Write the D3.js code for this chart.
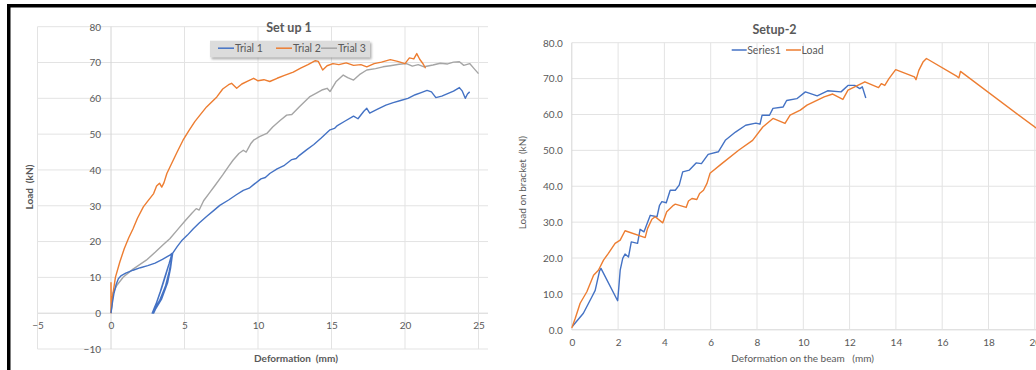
<!DOCTYPE html>
<html>
<head>
<meta charset="utf-8">
<script src="https://d3js.org/d3.v7.min.js"></script>
<style>
	body { margin: 0; background: #fff; }
	text { font-family: Lato, "Open Sans", sans-serif; fill: #595959; }
	.tick { font-size: 10px; }
	.title { font-size: 12.5px; font-weight: bold; }
	.axisTitle { font-size: 10px; }
	.bold { font-weight: bold; }
	.legendText { font-size: 10.5px; }
</style>
</head>
<body>
<script>
//set up 1 data: [deformation (mm), load (kN)]
var trial1 = [
	[0,0],[0.1,3],[0.2,5.5],[0.35,8],[0.5,9.6],[0.7,10.5],[1.0,11.2],[1.5,12.0],[2.0,12.7],[2.5,13.3],
	[3.0,14.0],[3.5,15.0],[4.0,16.2],[4.15,16.7],
	//unloading / reloading loops
	[4.0,14.5],[3.75,11],[3.45,7],[3.15,3.5],[2.95,1.5],[2.8,0],[2.95,1.2],[3.3,3.5],[3.7,7.5],[3.95,11.5],[4.1,14.5],[4.15,16.6],
	[3.95,13.8],[3.65,10],[3.35,6],[3.1,3],[2.9,0],[3.05,1.3],[3.45,4],[3.85,8.5],[4.05,12.5],[4.15,15.5],[4.2,16.8],
	[4.5,18.6],[4.8,20.2],[5.2,21.8],[5.6,23.6],[6.0,25.2],[6.5,27.0],[7.0,28.7],[7.4,30.1],[8.0,31.6],
	[8.5,33.0],[9.0,34.3],[9.4,34.9],[9.7,35.9],[10.2,37.5],[10.5,37.9],[10.8,39.0],[11.3,40.3],[11.8,41.3],
	[12.3,42.9],[12.6,43.2],[12.8,44.0],[13.3,45.6],[13.8,47.1],[14.3,48.9],[14.9,51.2],[15.2,51.6],[15.4,52.4],
	[15.9,53.6],[16.5,55.0],[16.8,54.3],[17.2,56.4],[17.4,57.2],[17.6,55.9],[18.1,56.9],[18.7,58.1],
	[19.2,58.8],[19.7,59.4],[20.2,60.0],[20.7,61.0],[21.1,61.6],[21.5,62.2],[21.8,61.8],[22.1,60.2],
	[22.5,60.6],[22.9,61.3],[23.3,62.0],[23.7,63.0],[23.9,62.0],[24.1,60.0],[24.25,61.2],[24.4,61.8]
];
var trial2 = [
	[0,0],[0,8.5],[0.02,1],[0.1,4.5],[0.3,10],[0.6,14.3],[0.9,18],[1.2,21],[1.5,23.6],[1.8,26.5],
	[2.2,29.7],[2.5,31.3],[2.9,33.4],[3.1,35.5],[3.3,36.3],[3.45,35.2],[3.6,36.4],[3.8,39.0],[4.1,41.6],
	[4.5,45.0],[4.9,48.3],[5.3,51],[5.7,53.5],[6.05,55.3],[6.5,57.6],[7.2,60.4],[7.6,62.6],[8.0,63.8],
	[8.2,64.2],[8.55,62.8],[8.9,64],[9.3,64.8],[9.7,65.6],[10.0,64.9],[10.4,65.2],[10.8,64.7],[11.3,65.6],
	[11.8,66.4],[12.4,67.3],[12.9,68.4],[13.4,69.4],[13.9,70.5],[14.1,70.3],[14.4,67.9],[14.7,69.1],
	[15.1,69.7],[15.5,69.4],[16.0,69.9],[16.5,69.2],[17.0,69.4],[17.4,68.8],[17.9,69.7],[18.4,70.1],
	[19.0,70.8],[19.5,70.3],[20.0,69.7],[20.3,71.3],[20.6,71.0],[20.8,72.5],[21.0,70.9],[21.2,69.8],[21.4,68.4]
];
var trial3 = [
	[0,0],[0.14,5.6],[0.4,7.8],[0.84,10.1],[1.5,12.3],[2.4,14.8],[3.0,17.0],[3.6,19.3],[4.0,20.8],
	[4.5,23.2],[5.0,25.6],[5.5,27.9],[5.8,29.2],[6.0,28.8],[6.3,31.4],[6.7,33.6],[7.1,35.8],[7.6,38.6],
	[8.0,41.0],[8.3,42.7],[8.7,44.6],[9.0,45.5],[9.2,45.0],[9.5,47.3],[9.7,48.3],[10.1,49.3],[10.6,50.2],
	[11.0,52.0],[11.5,53.8],[11.95,55.3],[12.3,55.5],[12.8,57.6],[13.5,60.4],[14.0,61.5],[14.4,62.4],
	[14.7,62.8],[14.9,61.9],[15.3,64.6],[15.8,66.5],[16.1,65.8],[16.5,65.1],[16.9,66.6],[17.4,67.9],
	[18.0,68.3],[18.5,68.8],[19.0,69.1],[19.6,69.5],[20.1,69.7],[20.5,69.0],[20.9,69.4],[21.3,68.8],
	[21.9,69.3],[22.4,69.8],[22.9,69.6],[23.3,70.1],[23.7,70.2],[24.0,69.2],[24.4,69.7],[24.7,68.3],[25.0,66.9]
];

//setup-2 data
var series1 = [
	[0.03,1],[0.5,4.6],[0.87,9.2],[1.01,11],[1.2,16.4],[1.26,17.1],[1.98,8.1],[2.02,11],[2.09,16.6],
	[2.2,19.9],[2.3,21.1],[2.45,20.3],[2.57,24.5],[2.84,24.1],[2.95,28],[3.12,27.3],[3.39,31.9],[3.68,31.5],
	[3.79,34.7],[3.89,35.7],[4.08,35.4],[4.25,38.9],[4.47,38.9],[4.64,40.3],[4.79,44],[5.08,44.5],
	[5.37,46.5],[5.6,46.3],[5.89,48.9],[6.33,49.6],[6.63,52.8],[7.07,55.1],[7.51,57],[7.95,57.6],[8.13,57.3],
	[8.22,59.8],[8.54,59.8],[8.69,61.7],[9.13,62.1],[9.28,63.9],[9.72,64.4],[10.09,66.3],[10.6,65.2],
	[11.05,66.6],[11.63,66.3],[11.93,68.1],[12.22,68.1],[12.44,67.2],[12.55,67.7],[12.7,64.6]
];
var loadSeries = [
	[0,0.5],[0.15,3.2],[0.36,7.4],[0.65,10.6],[0.94,15.2],[1.15,16.6],[1.37,19.4],[1.58,21.3],[1.87,24.1],
	[2.09,25],[2.3,27.6],[3.17,25.7],[3.27,28.2],[3.46,30.8],[3.6,31.5],[3.93,29.8],[4.1,32.9],[4.39,34.7],
	[4.47,35],[4.94,34.1],[5.04,35.9],[5.19,36.6],[5.4,36.3],[5.52,38],[5.69,38.9],[5.84,40.8],[5.97,43.6],
	[6.48,46.3],[7.22,50.1],[7.81,52.8],[8.25,56.5],[8.69,58.9],[9.21,57.5],[9.43,59.8],[9.87,61.2],
	[10.16,62.6],[10.9,64.9],[11.27,65.7],[11.71,64.2],[11.93,66.8],[12.22,67.7],[12.66,69.1],[13.25,67.5],
	[13.37,68.6],[13.52,68.1],[13.7,70],[13.99,72.5],[14.8,70.5],[14.87,69.7],[14.99,72.3],[15.17,74.6],
	[15.32,75.6],[16.64,70.6],[16.72,70.2],[16.79,72],[20.1,56]
];

var leftXTicks = [-5,0,5,10,15,20,25];
var leftYTicks = [-10,0,10,20,30,40,50,60,70,80];
var rightXTicks = [0,2,4,6,8,10,12,14,16,18,20];
var rightYTicks = [0,10,20,30,40,50,60,70,80];
var leftNames = ["Trial 1","Trial 2","Trial 3"];
var rightNames = ["Series1","Load"];

window.onload = function(){
	var w = 1036, h = 370;
	var blue = "#4472C4", orange = "#ED7D31", gray = "#A5A5A5", grid = "#e3e3e3";

	var svg = d3.select("body")
		.append("svg")
		.attr("width", w)
		.attr("height", h)
		.style("display", "block")
		.style("background-color", "#fff");

	var defs = svg.append("defs");
	defs.append("filter")
		.attr("id", "shadow")
		.attr("x", "-10%").attr("y", "-30%")
		.attr("width", "130%").attr("height", "190%")
		.append("feDropShadow")
		.attr("dx", 1.5).attr("dy", 2)
		.attr("stdDeviation", 1.2)
		.attr("flood-color", "#777")
		.attr("flood-opacity", 0.6);

	/* ---------- left chart: Set up 1 ---------- */
	var xL = d3.scaleLinear().domain([-5, 25]).range([37.5, 478.5]);
	var yL = d3.scaleLinear().domain([-10, 80]).range([349, 26.7]);
	var leftPlotRight = 488;

	var left = svg.append("g").attr("class", "setup1");

	left.selectAll(".hgrid")
		.data(leftYTicks)
		.enter()
		.append("line")
		.attr("x1", xL(-5))
		.attr("x2", leftPlotRight)
		.attr("y1", function(d){ return yL(d); })
		.attr("y2", function(d){ return yL(d); })
		.style("stroke", function(d){ return d === 0 ? "#d4d4d4" : grid; })
		.style("stroke-width", 1);

	left.selectAll(".vgrid")
		.data(leftXTicks)
		.enter()
		.append("line")
		.attr("x1", function(d){ return xL(d); })
		.attr("x2", function(d){ return xL(d); })
		.attr("y1", yL(80))
		.attr("y2", yL(-10))
		.style("stroke", function(d){ return d === 0 ? "#d4d4d4" : grid; })
		.style("stroke-width", 1);

	//axis labels through d3 axes, placed where the axes cross at 0
	var yAxisL = left.append("g")
		.attr("class", "tick")
		.attr("transform", "translate(" + xL(0) + ",0)")
		.call(d3.axisLeft(yL).tickValues(leftYTicks).tickSize(0).tickPadding(10));
	var xAxisL = left.append("g")
		.attr("class", "tick")
		.attr("transform", "translate(0," + yL(0) + ")")
		.call(d3.axisBottom(xL).tickValues(leftXTicks).tickSize(0).tickPadding(9));
	[yAxisL, xAxisL].forEach(function(a){
		a.select(".domain").remove();
		a.selectAll("text").style("fill", "#595959").style("font-size", "10px").attr("font-family", null);
	});
	yAxisL.selectAll("text").attr("dy", "0.34em");

	var line = function(xs, ys){
		return d3.line()
			.x(function(d){ return xs(d[0]); })
			.y(function(d){ return ys(d[1]); });
	};

	var leftSeries = [trial1, trial2, trial3];
	var leftColors = [blue, orange, gray];
	//draw trial 3 first, then 2, then 1 on top
	[2, 1, 0].forEach(function(i){
		left.append("path")
			.datum(leftSeries[i])
			.attr("d", line(xL, yL))
			.style("fill", "none")
			.style("stroke", leftColors[i])
			.style("stroke-width", 1.4)
			.style("stroke-linejoin", "round");
	});

	left.append("text")
		.attr("class", "title")
		.attr("text-anchor", "middle")
		.attr("x", 289)
		.attr("y", 31.5)
		.text("Set up 1");

	//legend box
	var legL = left.append("g").attr("class", "legend");
	legL.append("rect")
		.attr("x", 210).attr("y", 40.7)
		.attr("width", 160).attr("height", 16.6)
		.style("fill", "#dcdcdc")
		.attr("filter", "url(#shadow)");
	var legLx = [218, 276, 321];
	legL.selectAll(".legItem")
		.data(leftNames)
		.enter()
		.append("line")
		.attr("x1", function(d, i){ return legLx[i]; })
		.attr("x2", function(d, i){ return legLx[i] + 16; })
		.attr("y1", 48.2).attr("y2", 48.2)
		.style("stroke", function(d, i){ return leftColors[i]; })
		.style("stroke-width", 1.5);
	legL.selectAll(".legText")
		.data(leftNames)
		.enter()
		.append("text")
		.attr("class", "legendText")
		.attr("x", function(d, i){ return legLx[i] + 17; })
		.attr("y", 52)
		.text(function(d){ return d; });

	left.append("text")
		.attr("class", "axisTitle bold")
		.attr("text-anchor", "middle")
		.attr("transform", "translate(33,187) rotate(-90)")
		.style("white-space", "pre")
		.text("Load  (kN)");

	left.append("text")
		.attr("class", "axisTitle bold")
		.attr("text-anchor", "middle")
		.attr("x", 296)
		.attr("y", 362)
		.style("white-space", "pre")
		.text("Deformation  (mm)");

	/* ---------- right chart: Setup-2 ---------- */
	var xR = d3.scaleLinear().domain([0, 20]).range([571.8, 1034.8]);
	var yR = d3.scaleLinear().domain([0, 80]).range([329.8, 42.7]);

	var right = svg.append("g").attr("class", "setup2");

	right.selectAll(".hgrid")
		.data(rightYTicks)
		.enter()
		.append("line")
		.attr("x1", xR(0))
		.attr("x2", w)
		.attr("y1", function(d){ return yR(d); })
		.attr("y2", function(d){ return yR(d); })
		.style("stroke", function(d){ return d === 0 ? "#d4d4d4" : grid; })
		.style("stroke-width", 1);

	right.selectAll(".vgrid")
		.data(rightXTicks)
		.enter()
		.append("line")
		.attr("x1", function(d){ return xR(d); })
		.attr("x2", function(d){ return xR(d); })
		.attr("y1", yR(80))
		.attr("y2", yR(0))
		.style("stroke", function(d){ return d === 0 ? "#d4d4d4" : grid; })
		.style("stroke-width", 1);

	var yAxisR = right.append("g")
		.attr("class", "tick")
		.attr("transform", "translate(" + xR(0) + ",0)")
		.call(d3.axisLeft(yR).tickValues(rightYTicks).tickFormat(d3.format(".1f")).tickSize(0).tickPadding(9));
	var xAxisR = right.append("g")
		.attr("class", "tick")
		.attr("transform", "translate(0," + yR(0) + ")")
		.call(d3.axisBottom(xR).tickValues(rightXTicks).tickSize(0).tickPadding(9));
	[yAxisR, xAxisR].forEach(function(a){
		a.select(".domain").remove();
		a.selectAll("text").style("fill", "#595959").style("font-size", "10px").attr("font-family", null);
	});
	yAxisR.selectAll("text").attr("dy", "0.34em");

	var rightSeries = [series1, loadSeries];
	var rightColors = [blue, orange];
	[0, 1].forEach(function(i){
		right.append("path")
			.datum(rightSeries[i])
			.attr("d", line(xR, yR))
			.style("fill", "none")
			.style("stroke", rightColors[i])
			.style("stroke-width", 1.4)
			.style("stroke-linejoin", "round");
	});

	right.append("text")
		.attr("class", "title")
		.attr("text-anchor", "middle")
		.attr("x", 774.5)
		.attr("y", 33.5)
		.text("Setup-2");

	var legRx = [731.7, 786];
	right.selectAll(".legItem")
		.data(rightNames)
		.enter()
		.append("line")
		.attr("x1", function(d, i){ return legRx[i]; })
		.attr("x2", function(d, i){ return legRx[i] + 15; })
		.attr("y1", 50).attr("y2", 50)
		.style("stroke", function(d, i){ return rightColors[i]; })
		.style("stroke-width", 1.5);
	right.selectAll(".legText")
		.data(rightNames)
		.enter()
		.append("text")
		.attr("class", "legendText")
		.attr("x", function(d, i){ return legRx[i] + 15.5; })
		.attr("y", 53.8)
		.text(function(d){ return d; });

	right.append("text")
		.attr("class", "axisTitle")
		.attr("text-anchor", "middle")
		.attr("transform", "translate(526,182.6) rotate(-90)")
		.style("white-space", "pre")
		.text("Load on bracket  (kN)");

	right.append("text")
		.attr("class", "axisTitle")
		.attr("text-anchor", "middle")
		.attr("x", 802.6)
		.attr("y", 361.5)
		.style("white-space", "pre")
		.text("Deformation on the beam   (mm)");

	//black frame of the screenshot
	svg.append("rect")
		.attr("x", 7).attr("y", 4)
		.attr("width", w - 7).attr("height", 3.5)
		.style("fill", "#000");
	svg.append("rect")
		.attr("x", 7).attr("y", 4)
		.attr("width", 3.5).attr("height", h - 4)
		.style("fill", "#000");
};
</script>
</body>
</html>
